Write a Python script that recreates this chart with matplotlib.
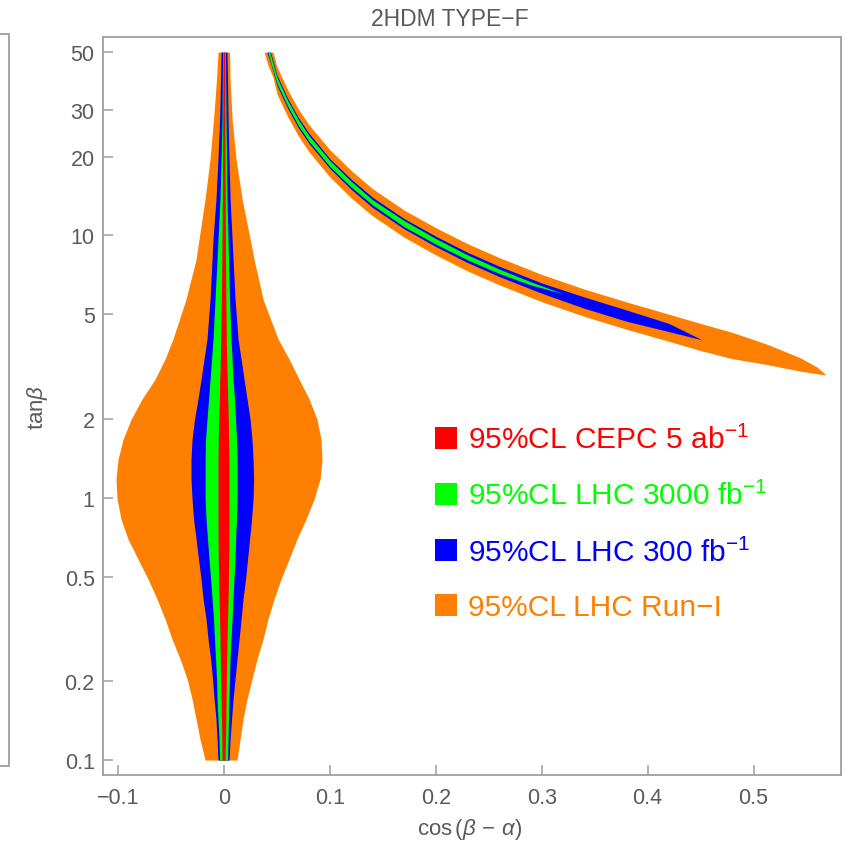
import matplotlib.pyplot as plt
from matplotlib.patches import Patch, Rectangle

plt.rcParams['font.family'] = ['Liberation Sans', 'DejaVu Sans']
plt.rcParams['mathtext.fontset'] = 'custom'
plt.rcParams['mathtext.rm'] = 'Liberation Sans'
plt.rcParams['mathtext.it'] = 'Liberation Sans:italic'

# central band around cos(beta-alpha) = 0: left / right edge at each tan(beta)
tb_center = [0.1, 0.12, 0.143, 0.171, 0.204, 0.243, 0.289, 0.345, 0.411, 0.49,
             0.583, 0.696, 0.829, 0.988, 1.18, 1.4, 1.67, 1.99, 2.38, 2.83,
             3.38, 4.03, 5.72, 8.12, 9.69, 13.8, 19.6, 27.8, 39.5, 50]
runi_lo = [-0.0179, -0.0227, -0.0264, -0.0302, -0.0349, -0.0415, -0.0491, -0.0557, -0.0633, -0.0718,
           -0.0812, -0.0907, -0.0973, -0.1010, -0.1020, -0.1001, -0.0954, -0.0878, -0.0774, -0.0652,
           -0.0557, -0.0482, -0.0359, -0.0264, -0.0236, -0.0179, -0.0132, -0.0099, -0.0071, -0.0057]
runi_hi = [0.0123, 0.0151, 0.0179, 0.0217, 0.0264, 0.0312, 0.0368, 0.0415, 0.0472, 0.0538,
           0.0614, 0.0689, 0.0774, 0.0850, 0.0907, 0.0925, 0.0916, 0.0878, 0.0803, 0.0708,
           0.0614, 0.0510, 0.0368, 0.0283, 0.0246, 0.0170, 0.0113, 0.0076, 0.0057, 0.0052]
lhc300_lo = [-0.0057, -0.0066, -0.0076, -0.0094, -0.0109, -0.0127, -0.0151, -0.0170, -0.0198, -0.0217,
             -0.0241, -0.0264, -0.0288, -0.0302, -0.0312, -0.0312, -0.0302, -0.0279, -0.0246, -0.0217,
             -0.0189, -0.0161, -0.0132, -0.0113, -0.0104, -0.0076, -0.0057, -0.0042, -0.0033, -0.0028]
lhc300_hi = [0.0047, 0.0057, 0.0071, 0.0085, 0.0104, 0.0123, 0.0142, 0.0161, 0.0179, 0.0203,
             0.0222, 0.0241, 0.0260, 0.0274, 0.0279, 0.0274, 0.0264, 0.0246, 0.0217, 0.0189,
             0.0161, 0.0132, 0.0104, 0.0085, 0.0076, 0.0057, 0.0047, 0.0038, 0.0033, 0.0028]
lhc3000_lo = [-0.0042, -0.0047, -0.0057, -0.0066, -0.0071, -0.0080, -0.0090, -0.0099, -0.0113, -0.0127,
              -0.0142, -0.0156, -0.0170, -0.0179, -0.0179, -0.0179, -0.0175, -0.0161, -0.0146, -0.0132,
              -0.0118, -0.0104, -0.0085, -0.0066, -0.0057, -0.0038, -0.0028, -0.0019, -0.0016, -0.0014]
lhc3000_hi = [0.0033, 0.0038, 0.0042, 0.0047, 0.0052, 0.0057, 0.0066, 0.0076, 0.0085, 0.0094,
              0.0104, 0.0109, 0.0118, 0.0123, 0.0123, 0.0123, 0.0118, 0.0109, 0.0099, 0.0085,
              0.0076, 0.0066, 0.0052, 0.0042, 0.0038, 0.0028, 0.0024, 0.0019, 0.0016, 0.0014]
cepc_lo = [-0.0019, -0.0021, -0.0024, -0.0028, -0.0031, -0.0035, -0.0038, -0.0042, -0.0047, -0.0050,
           -0.0054, -0.0057, -0.0057, -0.0057, -0.0057, -0.0057, -0.0054, -0.0049, -0.0044, -0.0040,
           -0.0035, -0.0031, -0.0025, -0.0021, -0.0019, -0.0016, -0.0014, -0.0012, -0.0010, -0.0009]
cepc_hi = [0.0009, 0.0014, 0.0017, 0.0019, 0.0022, 0.0025, 0.0028, 0.0033, 0.0038, 0.0042,
           0.0045, 0.0047, 0.0047, 0.0047, 0.0047, 0.0047, 0.0044, 0.0040, 0.0035, 0.0030,
           0.0025, 0.0021, 0.0017, 0.0014, 0.0013, 0.0011, 0.0009, 0.0008, 0.0008, 0.0008]

# wrong-sign arm: lower / upper tan(beta) edge at each cos(beta-alpha)
arm_runi_x = [0.0378, 0.0415, 0.0463, 0.05, 0.06, 0.07, 0.08, 0.10, 0.12, 0.14, 0.17, 0.20,
              0.23, 0.26, 0.30, 0.34, 0.38, 0.42, 0.45, 0.48, 0.5127, 0.544, 0.56, 0.5685]
arm_runi_lo = [50, 44.5, 40, 34.6, 28.4, 24.0, 20.9, 16.7, 13.9, 11.9, 9.85, 8.43,
               7.32, 6.48, 5.59, 4.92, 4.39, 3.95, 3.64, 3.39, 3.22, 3.04, 2.97, 2.94]
arm_runi_hi = [50, 50, 50, 43.9, 36.0, 30.4, 26.5, 21.2, 17.7, 15.1, 12.5, 10.7,
               9.30, 8.23, 7.10, 6.25, 5.58, 5.01, 4.62, 4.27, 3.85, 3.42, 3.15, 2.94]
arm_lhc300_x = [0.0406, 0.0422, 0.0439, 0.05, 0.06, 0.07, 0.08, 0.10, 0.12, 0.14, 0.17, 0.20,
                0.23, 0.26, 0.30, 0.34, 0.38, 0.42, 0.4514]
arm_lhc300_lo = [50, 47.5, 45.5, 37.3, 30.6, 25.8, 22.5, 18.0, 15.0, 12.8, 10.6, 9.07,
                 7.88, 6.97, 6.02, 5.28, 4.71, 4.30, 4.0]
arm_lhc300_hi = [50, 50, 50, 40.8, 33.4, 28.2, 24.6, 19.6, 16.4, 14.0, 11.6, 9.93,
                 8.62, 7.63, 6.59, 5.83, 5.20, 4.62, 4.0]
arm_lhc3000_x = [0.0414, 0.0423, 0.0432, 0.05, 0.06, 0.07, 0.08, 0.10, 0.12, 0.14, 0.17, 0.20,
                 0.23, 0.26, 0.29, 0.3201]
arm_lhc3000_lo = [50, 48.5, 47, 38.0, 31.2, 26.3, 22.9, 18.3, 15.3, 13.1, 10.8, 9.27,
                  8.07, 7.16, 6.47, 6.0]
arm_lhc3000_hi = [50, 50, 50, 40.0, 32.8, 27.7, 24.1, 19.3, 16.1, 13.7, 11.4, 9.73,
                  8.43, 7.44, 6.65, 6.0]

labels = [r"95%CL CEPC 5 ab$^{-1}$", r"95%CL LHC 3000 fb$^{-1}$",
          r"95%CL LHC 300 fb$^{-1}$", "95%CL LHC Run\u2212I"]
colors = ["#ff0000", "#00ff00", "#0000ff", "#ff8000"]

yticks = [0.1, 0.2, 0.5, 1, 2, 5, 10, 20, 30, 50]
ytick_labels = ["0.1", "0.2", "0.5", "1", "2", "5", "10", "20", "30", "50"]
xticks = [-0.1, 0, 0.1, 0.2, 0.3, 0.4, 0.5]
xtick_labels = ["\u22120.1", "0", "0.1", "0.2", "0.3", "0.4", "0.5"]

frame_col = "#9e9e9e"
text_col = "#5a5a5a"

fig = plt.figure(figsize=(8.53, 8.54), dpi=100)
ax = fig.add_axes([103 / 853, 78 / 854, 738 / 853, 738 / 854])

ax.fill_betweenx(tb_center, runi_lo, runi_hi, color=colors[3], lw=0)
ax.fill_between(arm_runi_x, arm_runi_lo, arm_runi_hi, color=colors[3], lw=0)
ax.fill_betweenx(tb_center, lhc300_lo, lhc300_hi, color=colors[2], lw=0)
ax.fill_between(arm_lhc300_x, arm_lhc300_lo, arm_lhc300_hi, color=colors[2], lw=0)
ax.fill_betweenx(tb_center, lhc3000_lo, lhc3000_hi, color=colors[1], lw=0)
ax.fill_between(arm_lhc3000_x, arm_lhc3000_lo, arm_lhc3000_hi, color=colors[1], lw=0)
ax.fill_betweenx(tb_center, cepc_lo, cepc_hi, color=colors[0], lw=0)

ax.set_yscale("log")
ax.set_xlim(-0.1143, 0.5826)
ax.set_ylim(0.0877, 57.1)
ax.set_yticks(yticks)
ax.set_yticklabels(ytick_labels)
ax.yaxis.set_minor_locator(plt.NullLocator())
ax.set_xticks(xticks)
ax.set_xticklabels(xtick_labels)

for s in ax.spines.values():
    s.set_color(frame_col)
    s.set_linewidth(1.3)
ax.tick_params(direction="in", length=7, width=1.1, color=frame_col,
               labelcolor=text_col, labelsize=15.5)
ax.tick_params(axis="y", pad=6)
ax.tick_params(axis="x", pad=9)

ax.set_xlabel(r"$\mathrm{cos}\,(\beta\,-\,\alpha)$", fontsize=16, color=text_col)
ax.xaxis.set_label_coords(0.497, -0.056)
ax.set_ylabel(r"$\mathrm{tan}\beta$", fontsize=16, color=text_col)
ax.yaxis.set_label_coords(-0.072, 0.5)

fig.text(450 / 853, 1 - 19 / 854, "2HDM TYPE\u2212F", fontsize=16.5, color=text_col,
         ha="center", va="center")

handles = [Patch(facecolor=c, edgecolor="none") for c in colors]
leg = ax.legend(handles, labels, loc="upper left", bbox_to_anchor=(0.45, 0.474),
                frameon=False, fontsize=21.5, handlelength=0.74, handleheight=0.74,
                handletextpad=0.35, labelspacing=0.9, borderpad=0, borderaxespad=0)
for t, c in zip(leg.get_texts(), colors):
    t.set_color(c)

# edge of the neighbouring panel at the left border
fig.patches.append(Rectangle((-0.5, 87 / 854), 0.5 + 9 / 853, (767 - 35) / 854,
                             transform=fig.transFigure, fill=False,
                             edgecolor=frame_col, lw=1.3))

fig.savefig("out.png", dpi=100)
